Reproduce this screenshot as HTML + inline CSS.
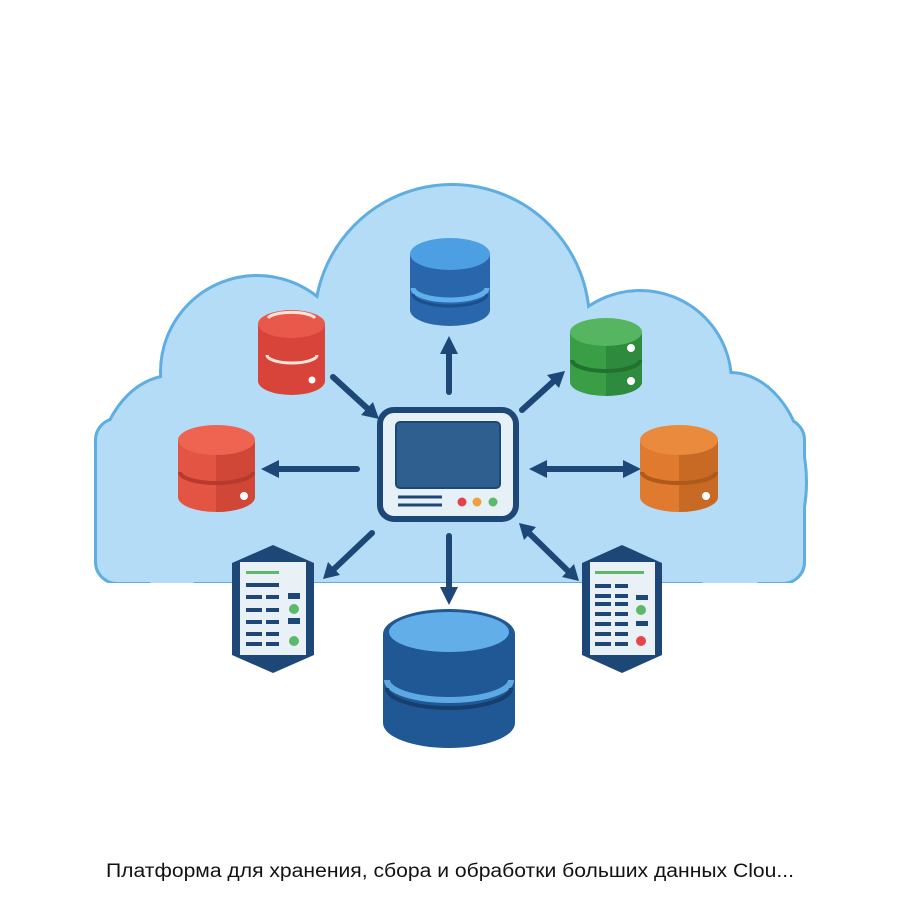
<!DOCTYPE html>
<html><head><meta charset="utf-8"><style>html,body{margin:0;padding:0;background:#fff}svg{display:block}</style></head>
<body>
<svg width="900" height="900" viewBox="0 0 900 900" xmlns="http://www.w3.org/2000/svg">
<defs>
<clipPath id="cb"><rect x="0" y="0" width="900" height="583"/></clipPath>
</defs>
<rect width="900" height="900" fill="#fff"/>
<g clip-path="url(#cb)">
 <g fill="#5eaee2" stroke="#5eaee2" stroke-width="6">
  <ellipse cx="172" cy="482" rx="75" ry="105"/>
  <circle cx="257" cy="372" r="95"/>
  <circle cx="452" cy="322" r="136"/>
  <circle cx="640" cy="382" r="90"/>
  <ellipse cx="730" cy="482" rx="75" ry="108"/>
  <rect x="97" y="420" width="706" height="162" rx="20"/>
  <rect x="240" y="330" width="420" height="100"/>
 </g>
 <g fill="#b5dcf6">
  <ellipse cx="172" cy="482" rx="75" ry="105"/>
  <circle cx="257" cy="372" r="95"/>
  <circle cx="452" cy="322" r="136"/>
  <circle cx="640" cy="382" r="90"/>
  <ellipse cx="730" cy="482" rx="75" ry="108"/>
  <rect x="97" y="420" width="706" height="162" rx="20"/>
  <rect x="240" y="330" width="420" height="100"/>
 </g>
</g>

<!-- arrows -->
<g stroke="#1d4777" stroke-width="6" stroke-linecap="round" fill="none">
 <line x1="449" y1="392" x2="449" y2="350"/>
 <line x1="333" y1="377" x2="368" y2="409"/>
 <line x1="522" y1="410" x2="555" y2="380"/>
 <line x1="357" y1="469" x2="275" y2="469"/>
 <line x1="543" y1="469" x2="627" y2="469"/>
 <line x1="372" y1="533" x2="333" y2="570"/>
 <line x1="449" y1="536" x2="449" y2="591"/>
 <line x1="528" y1="532" x2="569" y2="572"/>
</g>
<g fill="#1d4777">
 <polygon points="449,336 440,354 458,354"/>
 <polygon points="379,419 361,415 373,402"/>
 <polygon points="565,371 559,388 547,375"/>
 <polygon points="261,469 279,460 279,478"/>
 <polygon points="529,469 547,460 547,478"/>
 <polygon points="641,469 623,460 623,478"/>
 <polygon points="323,579 340,575 328,562"/>
 <polygon points="449,605 440,587 458,587"/>
 <polygon points="579,581 562,577 574,564"/>
 <polygon points="519,523 524,540 536,527"/>
</g>

<!-- top blue db -->
<path d="M410,254 V310 A40,16 0 0 0 490,310 V254 Z" fill="#2a66ab"/>
<path d="M413,288 A37,12 0 0 0 487,288" stroke="#5fb0ec" stroke-width="5" fill="none"/>
<path d="M413,294 A37,12 0 0 0 487,294" stroke="#1d4f8a" stroke-width="3" fill="none"/>
<ellipse cx="450" cy="254" rx="40" ry="16" fill="#4c9fe2"/>

<!-- red TL db -->
<path d="M258,324 V381 A33.5,14 0 0 0 325,381 V324 Z" fill="#d8443a"/>
<ellipse cx="291.5" cy="324" rx="33.5" ry="14" fill="#e8584b"/>
<path d="M268,318 A24,7 0 0 1 315,318" stroke="#fde4d8" stroke-width="3" fill="none"/>
<path d="M267,355 A25,8 0 0 0 317,355" stroke="#fde4d8" stroke-width="3" fill="none"/>
<circle cx="312" cy="380" r="3.5" fill="#fff"/>

<!-- green db -->
<path d="M570,332 V382 A36,14 0 0 0 642,382 V332 Z" fill="#3a9e47"/>
<path d="M606,332 V396 A36,14 0 0 0 642,382 V332 Z" fill="#2e8a3c"/>
<path d="M572,360 A34,11 0 0 0 640,360" stroke="#22722f" stroke-width="4" fill="none"/>
<ellipse cx="606" cy="332" rx="36" ry="14" fill="#55b560"/>
<circle cx="631" cy="348" r="4" fill="#fff"/>
<circle cx="631" cy="381" r="4" fill="#fff"/>

<!-- left red db -->
<path d="M178,440 V497 A38.5,15 0 0 0 255,497 V440 Z" fill="#e35542"/>
<path d="M216,440 V512 A38.5,15 0 0 0 255,497 V440 Z" fill="#d04637"/>
<path d="M180,472 A36.5,11 0 0 0 253,472" stroke="#b63a2e" stroke-width="4" fill="none"/>
<ellipse cx="216.5" cy="440" rx="38.5" ry="15" fill="#ee6450"/>
<circle cx="244" cy="496" r="4" fill="#fff"/>

<!-- orange db -->
<path d="M640,440 V497 A39,15 0 0 0 718,497 V440 Z" fill="#e07a2e"/>
<path d="M679,440 V512 A39,15 0 0 0 718,497 V440 Z" fill="#c96a24"/>
<path d="M642,472 A37,11 0 0 0 716,472" stroke="#ad5a1d" stroke-width="4" fill="none"/>
<ellipse cx="679" cy="440" rx="39" ry="15" fill="#ea8a3d"/>
<circle cx="706" cy="496" r="4" fill="#fff"/>

<!-- central device -->
<rect x="380" y="410" width="136" height="109" rx="14" fill="#e6f0f7" stroke="#1d4777" stroke-width="6"/>
<rect x="396" y="422" width="104" height="66" rx="4" fill="#2f5f8e" stroke="#1d4777" stroke-width="2"/>
<line x1="398" y1="497" x2="442" y2="497" stroke="#1d4777" stroke-width="3"/>
<line x1="398" y1="505" x2="442" y2="505" stroke="#1d4777" stroke-width="3"/>
<circle cx="462" cy="502" r="4.5" fill="#e0454e"/>
<circle cx="477" cy="502" r="4.5" fill="#f0a040"/>
<circle cx="493" cy="502" r="4.5" fill="#5cb86a"/>

<!-- left server -->
<path d="M273,545 L314,563 V655 L273,673 L232,655 V563 Z" fill="#1d4777"/>
<rect x="240" y="562" width="66" height="93" fill="#eaf1f6"/>
<g fill="#1d4777">
<rect x="246" y="571" width="33" height="3" fill="#5cb86a"/>
<rect x="246" y="583" width="33" height="4"/>
<rect x="246" y="595" width="16" height="4"/><rect x="266" y="595" width="13" height="4"/><rect x="288" y="593" width="12" height="6"/>
<rect x="246" y="608" width="16" height="4"/><rect x="266" y="608" width="13" height="4"/>
<rect x="246" y="620" width="16" height="4"/><rect x="266" y="620" width="13" height="4"/><rect x="288" y="618" width="12" height="6"/>
<rect x="246" y="632" width="16" height="4"/><rect x="266" y="632" width="13" height="4"/>
<rect x="246" y="642" width="16" height="4"/><rect x="266" y="642" width="13" height="4"/>
</g>
<circle cx="294" cy="609" r="5" fill="#5cb86a"/>
<circle cx="294" cy="641" r="5" fill="#5cb86a"/>

<!-- right server -->
<path d="M622,545 L662,563 V655 L622,673 L582,655 V563 Z" fill="#1d4777"/>
<rect x="590" y="562" width="65" height="93" fill="#eaf1f6"/>
<g fill="#1d4777">
<rect x="595" y="571" width="49" height="3" fill="#5cb86a"/>
<rect x="595" y="584" width="16" height="4"/><rect x="615" y="584" width="13" height="4"/>
<rect x="595" y="594" width="16" height="4"/><rect x="615" y="594" width="13" height="4"/><rect x="636" y="595" width="12" height="5"/>
<rect x="595" y="602" width="16" height="4"/><rect x="615" y="602" width="13" height="4"/>
<rect x="595" y="612" width="16" height="4"/><rect x="615" y="612" width="13" height="4"/>
<rect x="595" y="622" width="16" height="4"/><rect x="615" y="622" width="13" height="4"/><rect x="636" y="621" width="12" height="5"/>
<rect x="595" y="632" width="16" height="4"/><rect x="615" y="632" width="13" height="4"/>
<rect x="595" y="642" width="16" height="4"/><rect x="615" y="642" width="13" height="4"/>
</g>
<circle cx="641" cy="610" r="5" fill="#5cb86a"/>
<circle cx="641" cy="641" r="5" fill="#e8454a"/>

<!-- big blue db -->
<path d="M383,634 V723 A66,25 0 0 0 515,723 V634 Z" fill="#1f5894"/>
<path d="M387,680 A62,20 0 0 0 511,680" stroke="#5da9e4" stroke-width="6" fill="none"/>
<path d="M387,688 A62,20 0 0 0 511,688" stroke="#163f6d" stroke-width="4" fill="none"/>
<ellipse cx="449" cy="634" rx="66" ry="25" fill="#1f5894"/>
<ellipse cx="449" cy="632" rx="60" ry="20" fill="#62aee8"/>

<text x="450" y="877" text-anchor="middle" font-family="Liberation Sans, DejaVu Sans, sans-serif" font-size="19" fill="#111" textLength="688" lengthAdjust="spacingAndGlyphs">Платформа для хранения, сбора и обработки больших данных Clou...</text>
</svg>
</body></html>
